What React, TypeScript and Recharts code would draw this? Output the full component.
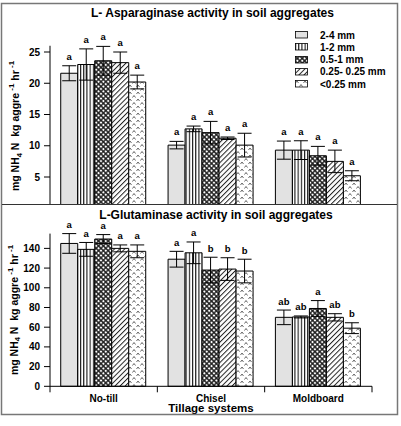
import React from "react";
import { BarChart, Bar, XAxis, YAxis, ErrorBar, LabelList, Legend } from "recharts";

const tillage = ["No-till", "Chisel", "Moldboard"];
const sizes = ["2-4 mm", "1-2 mm", "0.5-1 mm", "0.25- 0.25 mm", "<0.25 mm"];

// rows = aggregate size class, columns = tillage system
const aspMean = [
  [21.6, 10.1, 9.3],
  [23.0, 12.7, 9.3],
  [23.6, 12.1, 8.4],
  [23.3, 11.2, 7.5],
  [20.2, 10.1, 5.2],
];
const aspErr = [
  [1.2, 0.6, 1.45],
  [2.5, 0.45, 1.5],
  [2.3, 1.8, 1.5],
  [1.7, 0.2, 1.8],
  [1.1, 1.9, 0.8],
];
const aspLetters = [
  ["a", "a", "a"],
  ["a", "a", "a"],
  ["a", "a", "a"],
  ["a", "a", "a"],
  ["a", "a", "a"],
];

const gluMean = [
  [145, 129, 70],
  [139, 135.5, 70.4],
  [149.5, 118, 79],
  [140, 119, 70],
  [137, 117, 59],
];
const gluErr = [
  [10, 8, 7.4],
  [7, 11, 1],
  [4.5, 13, 8],
  [3.5, 11.5, 3.7],
  [6.5, 12, 5.5],
];
const gluLetters = [
  ["a", "a", "ab"],
  ["a", "a", "ab"],
  ["a", "b", "a"],
  ["a", "b", "ab"],
  ["a", "b", "b"],
];

const aspTicks = [5, 10, 15, 20, 25];
const gluTicks = [0, 20, 40, 60, 80, 100, 120, 140];

const FONT = "'Liberation Sans', Arial, Helvetica, sans-serif";
const fills = ["#e2e2e2", "url(#fill-vert)", "url(#fill-dots)", "url(#fill-diag)", "url(#fill-caret)"];

function buildRows(mean: number[][], err: number[][], letters: string[][]) {
  return tillage.map((name, t) => {
    const row: Record<string, string | number> = { name };
    sizes.forEach((_, s) => {
      row["s" + s] = mean[s][t];
      row["e" + s] = err[s][t];
      row["l" + s] = letters[s][t];
    });
    return row;
  });
}

const aspData = buildRows(aspMean, aspErr, aspLetters);
const gluData = buildRows(gluMean, gluErr, gluLetters);

function Patterns() {
  return (
    <svg width={0} height={0} style={{ position: "absolute" }}>
      <defs>
        <pattern id="fill-vert" width="3.2" height="6" patternUnits="userSpaceOnUse">
          <rect width="3.2" height="6" fill="#fff" />
          <rect x="0" width="1.1" height="6" fill="#111" />
        </pattern>
        <pattern id="fill-dots" width="3.4" height="3.4" patternUnits="userSpaceOnUse" patternTransform="rotate(45)">
          <rect width="3.4" height="3.4" fill="#222" />
          <circle cx="1.7" cy="1.7" r="1.15" fill="#fff" />
        </pattern>
        <pattern id="fill-diag" width="3.6" height="3.6" patternUnits="userSpaceOnUse" patternTransform="rotate(45)">
          <rect width="3.6" height="3.6" fill="#fff" />
          <rect x="0" width="1" height="3.6" fill="#222" />
        </pattern>
        <pattern id="fill-caret" width="8" height="7" patternUnits="userSpaceOnUse">
          <rect width="8" height="7" fill="#fff" />
          <path d="M0.5,3 L2,1 L3.5,3" fill="none" stroke="#555" strokeWidth="0.9" />
          <path d="M4.5,6.5 L6,4.5 L7.5,6.5" fill="none" stroke="#555" strokeWidth="0.9" />
        </pattern>
      </defs>
    </svg>
  );
}

// letter of the mean separation, placed just above the error bar cap
function letterLabel(mean: number[][], err: number[][], letters: string[][], s: number, gap: number) {
  return (props: any) => {
    const { x, y, width, height, index } = props;
    const v = mean[s][index];
    const ppu = Number(height) / v;
    const top = Number(y) - err[s][index] * ppu;
    return (
      <text
        x={Number(x) + Number(width) / 2}
        y={top - gap}
        textAnchor="middle"
        fontFamily={FONT}
        fontSize={9.5}
        fontWeight="bold"
        fill="#000"
      >
        {letters[s][index]}
      </text>
    );
  };
}

function SizeLegend() {
  return (
    <div style={{ fontFamily: FONT, fontSize: 10, fontWeight: "bold", color: "#000" }}>
      {sizes.map((label, i) => (
        <div key={label} style={{ display: "flex", alignItems: "center", height: 12.25 }}>
          <svg width={14} height={8} style={{ marginLeft: 2 }}>
            <rect x={0.5} y={0.5} width={12} height={6.5} fill={fills[i]} stroke="#000" strokeWidth={0.8} />
          </svg>
          <span style={{ marginLeft: 11, whiteSpace: "nowrap" }}>{label}</span>
        </div>
      ))}
    </div>
  );
}

function BoundaryTick(props: any) {
  const { x, y, payload } = props;
  const half = payload && payload.offset ? payload.offset : 53.5;
  const last = payload && payload.index === tillage.length - 1;
  return (
    <g>
      <line x1={x - half} x2={x - half} y1={y} y2={y + 6} stroke="#000" />
      {last && <line x1={x + half} x2={x + half} y1={y} y2={y + 6} stroke="#000" />}
      <text x={x} y={y + 15.5} textAnchor="middle" fontFamily={FONT} fontSize={10} fontWeight="bold" fill="#000">
        {payload.value}
      </text>
    </g>
  );
}

const tickStyle = { fill: "#000", fontSize: 10, fontWeight: "bold", fontFamily: FONT };

function Bars(mean: number[][], err: number[][], letters: string[][], gap: number) {
  return sizes.map((name, s) => (
    <Bar
      key={name}
      dataKey={"s" + s}
      name={name}
      fill={fills[s]}
      stroke="#000"
      strokeWidth={1}
      isAnimationActive={false}
    >
      <ErrorBar dataKey={"e" + s} width={7} stroke="#000" strokeWidth={1} isAnimationActive={false} />
      <LabelList dataKey={"l" + s} content={letterLabel(mean, err, letters, s, gap)} />
    </Bar>
  ));
}

function UnitLabel({ x, y }: { x: number; y: number }) {
  return (
    <text
      transform={`translate(${x},${y}) rotate(-90)`}
      textAnchor="middle"
      fontSize={10.5}
      fontWeight="bold"
      fill="#000"
      style={{ whiteSpace: "pre" }}
    >
      mg NH<tspan dy={2.5} fontSize={7.5}>4</tspan>
      <tspan dy={-2.5}> N  kg aggre</tspan>
      <tspan dy={-5} fontSize={8}> -1</tspan>
      <tspan dy={5}> hr</tspan>
      <tspan dy={-5} fontSize={8}> -1</tspan>
    </text>
  );
}

export default function App() {
  return (
    <div style={{ position: "absolute", left: 0, top: 0, width: 401, height: 426, background: "#fff" }}>
      <Patterns />

      {/* L-asparaginase panel */}
      <div style={{ position: "absolute", left: 0, top: 0, width: 401, height: 204, overflow: "hidden" }}>
        <BarChart
          width={401}
          height={210}
          data={aspData}
          margin={{ top: 45.75, right: 29, left: 10, bottom: 1.75 }}
          barCategoryGap="10%"
          barGap={0}
        >
          <XAxis dataKey="name" hide />
          <YAxis
            type="number"
            domain={[0, 26]}
            ticks={aspTicks}
            width={40}
            tickSize={6}
            tickMargin={4}
            stroke="#000"
            tick={tickStyle}
          />
          <Legend
            layout="vertical"
            align="center"
            verticalAlign="middle"
            content={<SizeLegend />}
            wrapperStyle={{ left: 293, top: 29, width: 110 }}
          />
          {Bars(aspMean, aspErr, aspLetters, 6)}
        </BarChart>
      </div>

      {/* L-glutaminase panel */}
      <div style={{ position: "absolute", left: 0, top: 205, width: 401, height: 221 }}>
        <BarChart
          width={401}
          height={221}
          data={gluData}
          margin={{ top: 28.6, right: 29, left: 10, bottom: 13.7 }}
          barCategoryGap="10%"
          barGap={0}
        >
          <XAxis
            dataKey="name"
            height={26}
            tickLine={false}
            tickSize={0}
            tickMargin={0}
            stroke="#000"
            tick={<BoundaryTick />}
            label={{ value: "Tillage systems", position: "insideBottom", offset: 0, fill: "#000", fontSize: 11.5, fontWeight: "bold", fontFamily: FONT }}
          />
          <YAxis
            type="number"
            domain={[0, 155]}
            ticks={gluTicks}
            width={40}
            tickSize={6}
            tickMargin={4}
            stroke="#000"
            tick={tickStyle}
          />
          {Bars(gluMean, gluErr, gluLetters, 5.5)}
        </BarChart>
      </div>

      {/* frame, titles and axis titles */}
      <svg
        width={401}
        height={426}
        style={{ position: "absolute", left: 0, top: 0, pointerEvents: "none" }}
        fontFamily={FONT}
      >
        <rect x={1.5} y={3.5} width={396} height={411} fill="none" stroke="#777" strokeWidth={1.5} />
        <line x1={2} x2={397} y1={204.5} y2={204.5} stroke="#333" strokeWidth={1} />
        <text x={212.5} y={17} textAnchor="middle" fontSize={12} fontWeight="bold" fill="#000">
          L- Asparaginase activity in soil aggregates
        </text>
        <text x={216} y={218.5} textAnchor="middle" fontSize={12} fontWeight="bold" fill="#000">
          L-Glutaminase activity in soil aggregates
        </text>
        <UnitLabel x={19} y={126} />
        <UnitLabel x={17.5} y={310} />
      </svg>
    </div>
  );
}
